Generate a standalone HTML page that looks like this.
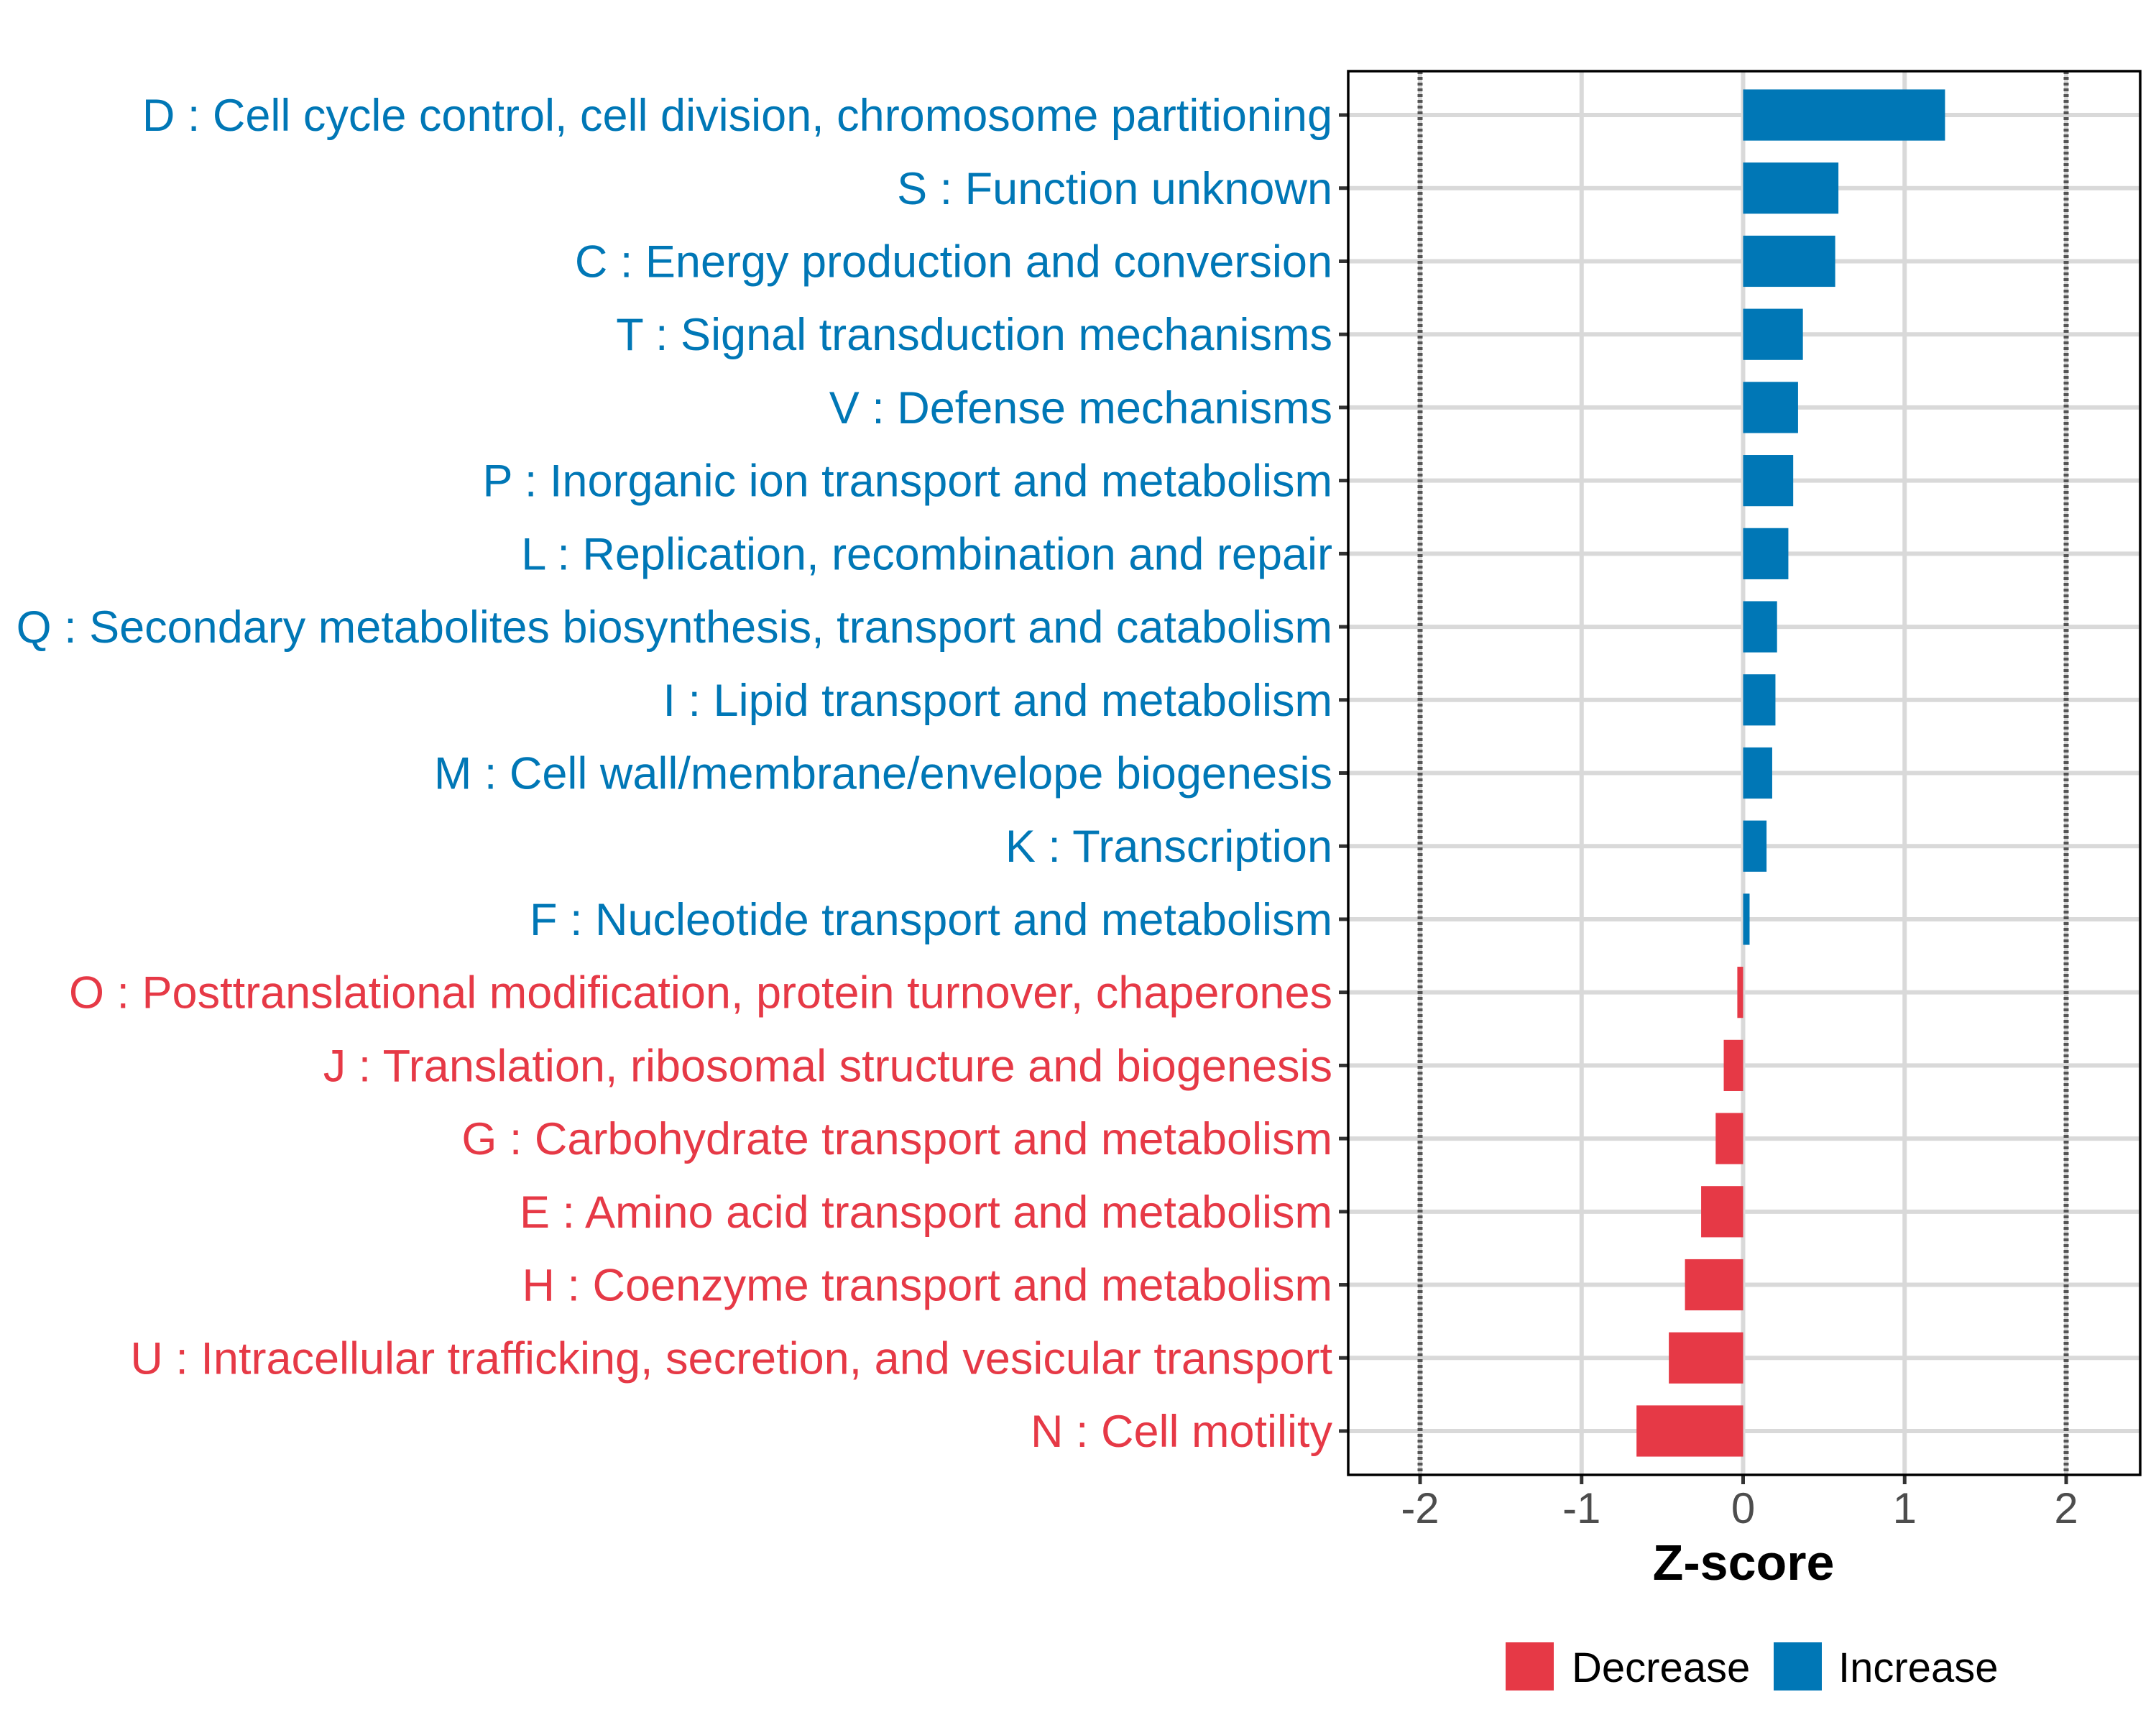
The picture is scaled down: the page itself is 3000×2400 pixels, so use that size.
<!DOCTYPE html>
<html><head><meta charset="utf-8"><style>
html,body{margin:0;padding:0;background:#fff}
svg{display:block}
text{font-family:"Liberation Sans",Arial,sans-serif}
</style></head><body>
<svg id="chart" width="3000" height="2400" viewBox="0 0 3000 2400" xmlns="http://www.w3.org/2000/svg">
<rect width="3000" height="2400" fill="#fff"/>
<g id="grid"></g>
<g id="bars"></g>
<g id="ylabels"></g>
<g id="xaxis"></g>
<rect x="1876" y="99" width="1102" height="1953" fill="none" stroke="#000" stroke-width="3.5"/>
<text x="2426" y="2198" font-size="70" font-weight="bold" text-anchor="middle" fill="#000">Z-score</text>
<g>
<rect x="2095" y="2285" width="67" height="67" fill="#e63946"/>
<text x="2187" y="2340" font-size="58" fill="#000">Decrease</text>
<rect x="2468" y="2285" width="67" height="67" fill="#0077b6"/>
<text x="2558" y="2340" font-size="58" fill="#000">Increase</text>
</g>
</svg>
<script>
const categories = [
"D : Cell cycle control, cell division, chromosome partitioning",
"S : Function unknown",
"C : Energy production and conversion",
"T : Signal transduction mechanisms",
"V : Defense mechanisms",
"P : Inorganic ion transport and metabolism",
"L : Replication, recombination and repair",
"Q : Secondary metabolites biosynthesis, transport and catabolism",
"I : Lipid transport and metabolism",
"M : Cell wall/membrane/envelope biogenesis",
"K : Transcription",
"F : Nucleotide transport and metabolism",
"O : Posttranslational modification, protein turnover, chaperones",
"J : Translation, ribosomal structure and biogenesis",
"G : Carbohydrate transport and metabolism",
"E : Amino acid transport and metabolism",
"H : Coenzyme transport and metabolism",
"U : Intracellular trafficking, secretion, and vesicular transport",
"N : Cell motility"];
const zscores = [1.25,0.59,0.57,0.37,0.34,0.31,0.28,0.21,0.20,0.18,0.145,0.04,-0.036,-0.12,-0.17,-0.26,-0.36,-0.46,-0.66];
const xTicks = [-2,-1,0,1,2];
const xTickLabels = ["-2","-1","0","1","2"];
const thresholds = [-2,2];

const NS="http://www.w3.org/2000/svg";
const L=1876,R=2978,T=99,B=2052;
const x0=2425.5, unit=224.75;
function xs(v){return x0+v*unit;}
const n=categories.length;
const step=(B-T)/(n-1+1.2);
function ys(i){return T+step*(0.6+i);}
function mk(tag,attrs,parent){const e=document.createElementNS(NS,tag);for(const k in attrs)e.setAttribute(k,attrs[k]);parent.appendChild(e);return e;}
const grid=document.getElementById('grid'),bars=document.getElementById('bars'),yl=document.getElementById('ylabels'),xa=document.getElementById('xaxis');
xTicks.forEach((t,i)=>{
  const g=mk('line',{x1:xs(t),x2:xs(t),y1:T,y2:B,stroke:'#d9d9d9','stroke-width':6},grid);
  
  
  const tk=mk('line',{x1:xs(t),x2:xs(t),y1:B,y2:B+13,stroke:'#333','stroke-width':5},xa);
  
  
  const tl=mk('text',{x:xs(t),y:2119,'font-size':60,'text-anchor':'middle',fill:'#4d4d4d'},xa);
  tl.textContent=xTickLabels[i];
  
  
});
categories.forEach((c,i)=>{
  const y=ys(i);
  const g=mk('line',{x1:L,x2:R,y1:y,y2:y,stroke:'#d9d9d9','stroke-width':6},grid);
  
  
});
thresholds.forEach(t=>{
  const d=mk('line',{x1:xs(t),x2:xs(t),y1:T,y2:B,stroke:'#555','stroke-width':7,'stroke-dasharray':'4 4'},grid);
  
  
});
const bh=step*0.7;
categories.forEach((c,i)=>{
  const v=zscores[i],y=ys(i);
  const col=v>=0?'#0077b6':'#e63946';
  const x1=Math.min(xs(0),xs(v)),w=Math.abs(xs(v)-xs(0));
  const r=mk('rect',{x:x1,y:y-bh/2,width:w,height:bh,fill:col},bars);
  
  
  const tk=mk('line',{x1:L-13,x2:L,y1:y,y2:y,stroke:'#333','stroke-width':5},yl);
  
  
  const t=mk('text',{x:1854,y:y+22,'font-size':63,'text-anchor':'end',fill:col},yl);
  t.textContent=c;
  
  
});
</script>
</body></html>
